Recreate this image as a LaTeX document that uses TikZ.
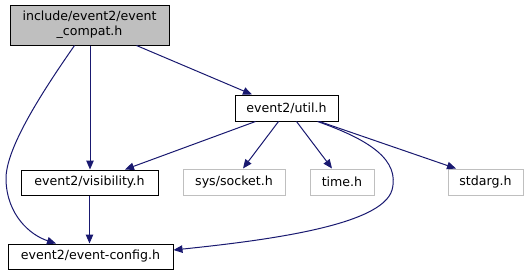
\documentclass[tikz,border=0pt]{standalone}
\usepackage{fontspec}
\setmainfont{DejaVu Sans}
\usetikzlibrary{arrows.meta}
\definecolor{edgeblue}{HTML}{191970}
\definecolor{missgray}{HTML}{BFBFBF}
\tikzset{
  box/.style={draw=black, line width=1pt, fill=white, inner sep=0pt, align=center,
    font=\fontsize{12.6}{15}\selectfont},
  missbox/.style={box, draw=missgray},
  edge/.style={draw=edgeblue, line width=1pt, -{Triangle[length=9pt,width=7.5pt]}},
}
\begin{document}
\begin{tikzpicture}[x=1pt,y=-1pt]
\useasboundingbox (0,0) rectangle (529,276);
\node[box, fill=missgray, minimum width=159pt, minimum height=40pt] (top) at (89.5,25) {include/event2/event\\\_compat.h};
\node[box, minimum width=103pt, minimum height=26pt] (util) at (286.5,108) {event2/util.h};
\node[box, minimum width=137pt, minimum height=25pt] (vis) at (89.5,182.5) {event2/visibility.h};
\node[missbox, minimum width=102pt, minimum height=26pt] (sock) at (234,182) {sys/socket.h};
\node[missbox, minimum width=64pt, minimum height=26pt] (time) at (342,182) {time.h};
\node[missbox, minimum width=75pt, minimum height=26pt] (stdarg) at (485.5,182) {stdarg.h};
\node[box, minimum width=165pt, minimum height=25pt] (cfg) at (90.5,256.5) {event2/event-config.h};

\draw[edge] (top.south) ++(47,0) coordinate (t1) (t1) -- (util.north west -| 252,0);
\draw[edge] (top.south -| 90,0) -- (vis.north -| 90,0);
\draw[edge] (top.south) ++(-15,0) coordinate (t2) (t2) .. controls (40,95) and (5,150) .. (6,180) .. controls (7,215) and (30,235) .. (cfg.north west -| 56,0);
\draw[edge] (util.south) ++(-31,0) coordinate (u1) (u1) -- (vis.north east -| 125,0);
\draw[edge] (util.south) ++(-8,0) coordinate (u2) (u2) -- (sock.north -| 243,0);
\draw[edge] (util.south) ++(10,0) coordinate (u3) (u3) -- (time.north -| 332,0);
\draw[edge] (util.south) ++(33,0) coordinate (u4) (u4) -- (stdarg.north west -| 456,0);
\draw[edge] (util.south) ++(31,0) coordinate (u5) (u5) .. controls (370,140) and (400,160) .. (392,190) .. controls (382,225) and (270,240) .. (cfg.east |- 0,250);
\draw[edge] (vis.south) -- (cfg.north -| vis.south);
\end{tikzpicture}
\end{document}
